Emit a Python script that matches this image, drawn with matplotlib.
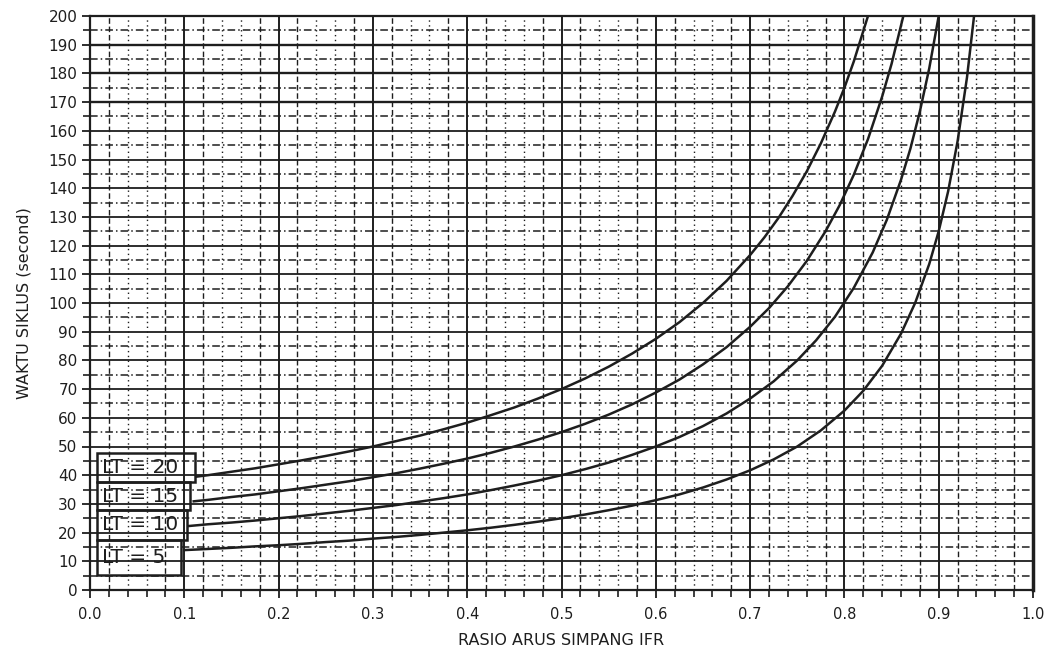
import matplotlib
matplotlib.use("Agg")
import matplotlib.pyplot as plt
from matplotlib.patches import Rectangle
import numpy as np

# ---- data ----
ifr_lt20 = [0.113, 0.125, 0.15, 0.175, 0.2, 0.225, 0.25, 0.275, 0.3, 0.325, 0.35, 0.375, 0.4, 0.425, 0.45,
            0.475, 0.5, 0.525, 0.55, 0.575, 0.6, 0.625, 0.65, 0.675, 0.7, 0.715, 0.73, 0.745, 0.76, 0.775,
            0.79, 0.8, 0.81, 0.825]
c_lt20 = [39.5, 40.0, 41.2, 42.4, 43.8, 45.2, 46.7, 48.3, 50.0, 51.9, 53.8, 56.0, 58.3, 60.9, 63.6,
          66.7, 70.0, 73.7, 77.8, 82.4, 87.5, 93.3, 100.0, 107.7, 116.7, 122.8, 129.6, 137.3, 145.8, 155.6,
          166.7, 175.0, 184.2, 200.0]

ifr_lt15 = [0.11, 0.125, 0.15, 0.175, 0.2, 0.225, 0.25, 0.275, 0.3, 0.325, 0.35, 0.375, 0.4, 0.425, 0.45,
            0.475, 0.5, 0.525, 0.55, 0.575, 0.6, 0.625, 0.65, 0.675, 0.7, 0.72, 0.74, 0.76, 0.78, 0.795,
            0.81, 0.825, 0.84, 0.85, 0.8625]
c_lt15 = [30.9, 31.4, 32.4, 33.3, 34.4, 35.5, 36.7, 37.9, 39.3, 40.7, 42.3, 44.0, 45.8, 47.8, 50.0,
          52.4, 55.0, 57.9, 61.1, 64.7, 68.8, 73.3, 78.6, 84.6, 91.7, 98.2, 105.8, 114.6, 125.0, 134.1,
          144.7, 157.1, 171.9, 183.3, 200.0]

ifr_lt10 = [0.105, 0.125, 0.15, 0.175, 0.2, 0.225, 0.25, 0.275, 0.3, 0.325, 0.35, 0.375, 0.4, 0.425, 0.45,
            0.475, 0.5, 0.525, 0.55, 0.575, 0.6, 0.625, 0.65, 0.675, 0.7, 0.725, 0.75, 0.77, 0.79, 0.81,
            0.83, 0.845, 0.86, 0.87, 0.88, 0.89, 0.9]
c_lt10 = [22.3, 22.9, 23.5, 24.2, 25.0, 25.8, 26.7, 27.6, 28.6, 29.6, 30.8, 32.0, 33.3, 34.8, 36.4,
          38.1, 40.0, 42.1, 44.4, 47.1, 50.0, 53.3, 57.1, 61.5, 66.7, 72.7, 80.0, 87.0, 95.2, 105.3,
          117.6, 129.0, 142.9, 153.8, 166.7, 181.8, 200.0]

ifr_lt5 = [0.1, 0.125, 0.15, 0.175, 0.2, 0.225, 0.25, 0.275, 0.3, 0.325, 0.35, 0.375, 0.4, 0.425, 0.45,
           0.475, 0.5, 0.525, 0.55, 0.575, 0.6, 0.625, 0.65, 0.675, 0.7, 0.725, 0.75, 0.775, 0.8, 0.82,
           0.84, 0.86, 0.875, 0.89, 0.9, 0.91, 0.92, 0.93, 0.9375]
c_lt5 = [13.9, 14.3, 14.7, 15.2, 15.6, 16.1, 16.7, 17.2, 17.9, 18.5, 19.2, 20.0, 20.8, 21.7, 22.7,
         23.8, 25.0, 26.3, 27.8, 29.4, 31.3, 33.3, 35.7, 38.5, 41.7, 45.5, 50.0, 55.6, 62.5, 69.4,
         78.1, 89.3, 100.0, 113.6, 125.0, 138.9, 156.3, 178.6, 200.0]

legend_labels = ["LT = 20", "LT = 15", "LT = 10", "LT = 5"]
x_tick_labels = ["0.0", "0.1", "0.2", "0.3", "0.4", "0.5", "0.6", "0.7", "0.8", "0.9", "1.0"]
y_tick_values = list(range(0, 201, 10))

INK = "#1e1e1e"

fig = plt.figure(figsize=(10.58, 6.53), dpi=100)
ax = fig.add_axes([90/1058, 1-590/653, (1033-90)/1058, (590-16)/653])
ax.set_xlim(0, 1.0)
ax.set_ylim(0, 200)

# ---- grid ----
for i in range(0, 50):
    xv = i * 0.02
    k = i % 5
    if k == 0:
        continue
    if k in (1, 4):
        ax.axvline(xv, color=INK, lw=1.0, ls=(0, (4, 2)), zorder=1)
    else:
        ax.axvline(xv, color=INK, lw=1.0, ls=(0, (1, 2.5)), zorder=1)
for i in range(1, 10):
    ax.axvline(i * 0.1, color=INK, lw=1.4, zorder=1)
for v in range(5, 200, 10):
    ax.axhline(v, color=INK, lw=1.1, ls=(0, (5, 2, 1, 2)), zorder=1)
for v in range(10, 200, 10):
    ax.axhline(v, color=INK, lw=1.7 if v >= 170 else 1.3, zorder=1)

# ---- curves ----
for xs, ys in [(ifr_lt20, c_lt20), (ifr_lt15, c_lt15), (ifr_lt10, c_lt10), (ifr_lt5, c_lt5)]:
    ax.plot(xs, ys, color=INK, lw=1.8, zorder=3, solid_joinstyle="round")

# ---- legend boxes ----
box_right = [0.111, 0.106, 0.103, 0.097]
box_top = [47.7, 37.6, 27.9, 17.4]
box_bot = [37.6, 27.9, 17.4, 5.2]
for lab, r, t, b in zip(legend_labels, box_right, box_top, box_bot):
    ax.add_patch(Rectangle((0.0074, b), r - 0.0074, t - b, fill=False,
                           edgecolor=INK, lw=1.8, zorder=4))
    ax.text(0.013, (t + b) / 2, lab, fontsize=14.5, color=INK, va="center",
            ha="left", zorder=5)

# ---- axes ----
ax.set_xticks(np.arange(0, 1.01, 0.1))
ax.set_xticklabels(x_tick_labels)
ax.set_xticks(np.arange(0, 1.001, 0.02), minor=True)
ax.set_yticks(y_tick_values)
ax.set_yticklabels([str(v) for v in y_tick_values])
ax.set_yticks(np.arange(0, 201, 5), minor=True)
ax.tick_params(axis="both", which="major", direction="out", length=6, width=1.3,
               color=INK, labelcolor=INK, labelsize=11)
ax.tick_params(axis="both", which="minor", direction="out", length=5, width=1.2, color=INK)
ax.tick_params(axis="y", pad=3)
ax.tick_params(axis="x", pad=6, labelsize=10.5)
for s in ax.spines.values():
    s.set_color(INK)
    s.set_linewidth(1.6)
ax.spines["right"].set_linewidth(2.5)

ax.set_xlabel("RASIO ARUS SIMPANG IFR", fontsize=11.5, color=INK, labelpad=8)
ax.set_ylabel("WAKTU SIKLUS (second)", fontsize=11.5, color=INK, labelpad=12)

fig.savefig("out.png", dpi=100, facecolor="white")
